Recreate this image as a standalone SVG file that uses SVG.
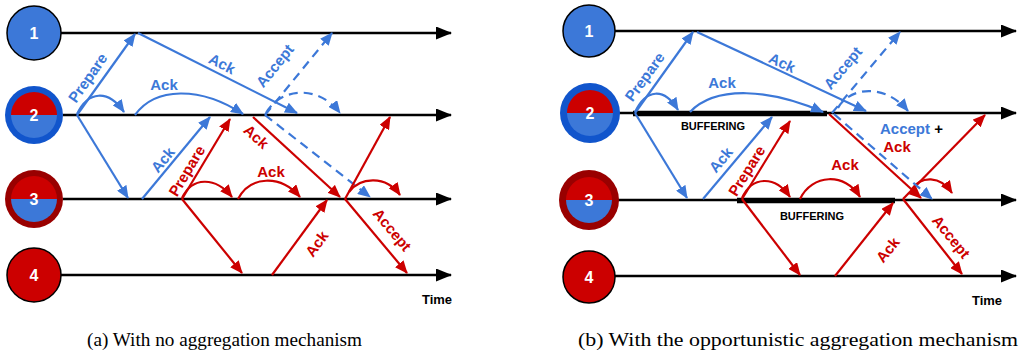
<svg xmlns="http://www.w3.org/2000/svg" width="1029" height="356" viewBox="0 0 1029 356">
<style>
.tl{stroke:#000;stroke-width:2.6;fill:none}
.b{stroke:#3c78d8;stroke-width:2.2;fill:none}
.bd{stroke:#3c78d8;stroke-width:2.2;fill:none;stroke-dasharray:9 6}
.r{stroke:#cc0000;stroke-width:2.2;fill:none}
.buf{stroke:#000;stroke-width:5.5}
.lb{font-family:"Liberation Sans",Arial,sans-serif;font-weight:bold;font-size:15px;text-anchor:middle}
.bt{fill:#3c78d8}
.rt{fill:#cc0000}
.nt{font-family:"Liberation Sans",Arial,sans-serif;font-weight:bold;font-size:16px;fill:#fff;text-anchor:middle}
.sm{font-family:"Liberation Sans",Arial,sans-serif;font-weight:bold;font-size:11px;fill:#000;text-anchor:middle}
.tm{font-family:"Liberation Sans",Arial,sans-serif;font-weight:bold;font-size:13px;fill:#000;text-anchor:middle}
.cap{font-family:"Liberation Serif","Times New Roman",serif;font-size:19px;fill:#000}
</style>
<defs>
<marker id="ak" viewBox="0 0 16 13" refX="15" refY="6.5" markerWidth="16" markerHeight="13" markerUnits="userSpaceOnUse" orient="auto"><path d="M0,0L16,6.5L0,13z" fill="#000"/></marker>
<marker id="ab" viewBox="0 0 13 11" refX="12" refY="5.5" markerWidth="13" markerHeight="11" markerUnits="userSpaceOnUse" orient="auto"><path d="M0,0L13,5.5L0,11z" fill="#3c78d8"/></marker>
<marker id="ar" viewBox="0 0 13 11" refX="12" refY="5.5" markerWidth="13" markerHeight="11" markerUnits="userSpaceOnUse" orient="auto"><path d="M0,0L13,5.5L0,11z" fill="#cc0000"/></marker>
</defs>

<!-- ===== Panel (a) ===== -->
<g id="timelines-a">
<line class="tl" x1="61" y1="33" x2="451" y2="33" marker-end="url(#ak)"/>
<line class="tl" x1="63" y1="115" x2="451" y2="115" marker-end="url(#ak)"/>
<line class="tl" x1="63" y1="199" x2="451" y2="199" marker-end="url(#ak)"/>
<line class="tl" x1="61" y1="275" x2="451" y2="275" marker-end="url(#ak)"/>
</g>
<g id="connectors-a">
<line class="b" x1="77" y1="115" x2="135" y2="34" marker-end="url(#ab)"/>
<line class="b" x1="77" y1="115" x2="128" y2="198" marker-end="url(#ab)"/>
<path class="b" d="M77,114 C88,91 108,89 124,112" marker-end="url(#ab)"/>
<path class="b" d="M135,115 C155,87 200,86 243,114" marker-end="url(#ab)"/>
<line class="b" x1="138" y1="33" x2="297" y2="113" marker-end="url(#ab)"/>
<line class="b" x1="142" y1="199" x2="210" y2="117" marker-end="url(#ab)"/>
<line class="bd" x1="265" y1="115" x2="332" y2="33" marker-end="url(#ab)"/>
<path class="bd" d="M266,113 C280,88 318,84 340,113" marker-end="url(#ab)"/>
<line class="bd" x1="265" y1="115" x2="370" y2="197" marker-end="url(#ab)"/>
<line class="r" x1="182" y1="199" x2="230" y2="119" marker-end="url(#ar)"/>
<line class="r" x1="182" y1="199" x2="242" y2="273" marker-end="url(#ar)"/>
<path class="r" d="M182,198 C192,177 215,176 232,197" marker-end="url(#ar)"/>
<path class="r" d="M238,199 C250,176 280,174 300,197" marker-end="url(#ar)"/>
<line class="r" x1="253" y1="117" x2="340" y2="197" marker-end="url(#ar)"/>
<line class="r" x1="345" y1="199" x2="390" y2="117" marker-end="url(#ar)"/>
<path class="r" d="M349,192 C360,177 386,175 400,195" marker-end="url(#ar)"/>
<line class="r" x1="272" y1="275" x2="327" y2="200" marker-end="url(#ar)"/>
<line class="r" x1="345" y1="199" x2="407" y2="273" marker-end="url(#ar)"/>
</g>
<g id="labels-a">
<text class="lb bt" transform="translate(88,78) rotate(-55)" y="5">Prepare</text>
<text class="lb bt" x="164" y="90">Ack</text>
<text class="lb bt" transform="translate(222,64) rotate(27)" y="5">Ack</text>
<text class="lb bt" transform="translate(275,66) rotate(-51)" y="5">Accept</text>
<text class="lb bt" transform="translate(163,160) rotate(-50)" y="5">Ack</text>
<text class="lb rt" transform="translate(187,171) rotate(-59)" y="5">Prepare</text>
<text class="lb rt" x="271" y="177">Ack</text>
<text class="lb rt" transform="translate(256,137) rotate(42)" y="5">Ack</text>
<text class="lb rt" transform="translate(317,244) rotate(-54)" y="5">Ack</text>
<text class="lb rt" transform="translate(392,230) rotate(50)" y="5">Accept</text>
<text class="tm" x="437" y="304">Time</text>
</g>
<g id="a-node1"><circle cx="34" cy="33" r="27" fill="#3c78d8" stroke="#000" stroke-width="1.5"/><text class="nt" x="34" y="39">1</text></g>
<g id="a-node2"><circle cx="34" cy="115" r="29" fill="#1155cc"/><path d="M11,115A23,23 0 0 1 57,115Z" fill="#cc0000"/><path d="M11,115A23,23 0 0 0 57,115Z" fill="#3c78d8"/><text class="nt" x="34" y="121">2</text></g>
<g id="a-node3"><circle cx="34" cy="199" r="29" fill="#990000"/><path d="M11,199A23,23 0 0 1 57,199Z" fill="#cc0000"/><path d="M11,199A23,23 0 0 0 57,199Z" fill="#3c78d8"/><text class="nt" x="34" y="205">3</text></g>
<g id="a-node4"><circle cx="34" cy="275" r="27" fill="#cc0000" stroke="#000" stroke-width="1.5"/><text class="nt" x="34" y="281">4</text></g>

<!-- ===== Panel (b) ===== -->
<g id="timelines-b">
<line class="tl" x1="615" y1="31" x2="1016" y2="31" marker-end="url(#ak)"/>
<line class="tl" x1="618" y1="113" x2="1016" y2="113" marker-end="url(#ak)"/>
<line class="tl" x1="618" y1="200" x2="1016" y2="200" marker-end="url(#ak)"/>
<line class="tl" x1="615" y1="276" x2="1016" y2="276" marker-end="url(#ak)"/>
<line class="buf" x1="633" y1="113.5" x2="827" y2="113.5"/>
<line class="buf" x1="737" y1="200.5" x2="895" y2="200.5"/>
</g>
<g id="connectors-b">
<line class="b" x1="635" y1="113" x2="693" y2="32" marker-end="url(#ab)"/>
<line class="b" x1="635" y1="113" x2="687" y2="198" marker-end="url(#ab)"/>
<path class="b" d="M635,112 C646,89 664,87 678,110" marker-end="url(#ab)"/>
<path class="b" d="M690,112 C716,85 770,89 823,112" marker-end="url(#ab)"/>
<line class="b" x1="697" y1="32" x2="866" y2="111" marker-end="url(#ab)"/>
<line class="b" x1="703" y1="199" x2="772" y2="117" marker-end="url(#ab)"/>
<line class="r" x1="742" y1="199" x2="790" y2="121" marker-end="url(#ar)"/>
<line class="r" x1="742" y1="199" x2="800" y2="275" marker-end="url(#ar)"/>
<path class="r" d="M742,198 C752,176 775,175 790,197" marker-end="url(#ar)"/>
<path class="r" d="M800,199 C812,174 845,172 860,197" marker-end="url(#ar)"/>
<line class="r" x1="829" y1="114" x2="921" y2="198" marker-end="url(#ar)"/>
<line class="r" x1="903" y1="199" x2="985" y2="115" marker-end="url(#ar)"/>
<path class="r" d="M912,189 C921,176 940,175 952,193" marker-end="url(#ar)"/>
<line class="r" x1="835" y1="276" x2="893" y2="203" marker-end="url(#ar)"/>
<line class="r" x1="903" y1="199" x2="962" y2="274" marker-end="url(#ar)"/>
<line class="bd" x1="832" y1="113" x2="900" y2="32" marker-end="url(#ab)"/>
<path class="bd" d="M838,108 C850,86 886,84 908,111" marker-end="url(#ab)"/>
<line class="bd" x1="834" y1="114" x2="932" y2="199" marker-end="url(#ab)"/>
</g>
<g id="labels-b">
<text class="lb bt" transform="translate(645,77) rotate(-54)" y="5">Prepare</text>
<text class="lb bt" x="722" y="88">Ack</text>
<text class="lb bt" transform="translate(782,63) rotate(25)" y="5">Ack</text>
<text class="lb bt" transform="translate(843,68) rotate(-50)" y="5">Accept</text>
<text class="lb bt" transform="translate(721,160) rotate(-50)" y="5">Ack</text>
<text class="lb rt" transform="translate(747,171) rotate(-58)" y="5">Prepare</text>
<text class="lb rt" x="845" y="170">Ack</text>
<text class="lb" x="880" y="134" style="text-anchor:start"><tspan fill="#3c78d8">Accept</tspan><tspan fill="#000"> +</tspan></text>
<text class="lb rt" x="897" y="152">Ack</text>
<text class="lb rt" transform="translate(888,250) rotate(-51)" y="5">Ack</text>
<text class="lb rt" transform="translate(951,237) rotate(51)" y="5">Accept</text>
<text class="sm" x="713" y="130">BUFFERING</text>
<text class="sm" x="812" y="220">BUFFERING</text>
<text class="tm" x="987" y="305">Time</text>
</g>
<g id="b-node1"><circle cx="589" cy="31" r="26" fill="#3c78d8" stroke="#000" stroke-width="1.5"/><text class="nt" x="589" y="37">1</text></g>
<g id="b-node2"><circle cx="590" cy="113" r="30" fill="#1155cc"/><path d="M567,113A23,23 0 0 1 613,113Z" fill="#cc0000"/><path d="M567,113A23,23 0 0 0 613,113Z" fill="#3c78d8"/><text class="nt" x="590" y="119">2</text></g>
<g id="b-node3"><circle cx="589" cy="200" r="30" fill="#990000"/><path d="M566,200A23,23 0 0 1 612,200Z" fill="#cc0000"/><path d="M566,200A23,23 0 0 0 612,200Z" fill="#3c78d8"/><text class="nt" x="589" y="206">3</text></g>
<g id="b-node4"><circle cx="589" cy="277" r="26" fill="#cc0000" stroke="#000" stroke-width="1.5"/><text class="nt" x="589" y="283">4</text></g>

<g id="captions">
<text class="cap" x="87" y="346" textLength="275" lengthAdjust="spacingAndGlyphs">(a)  With no aggregation mechanism</text>
<text class="cap" x="578" y="346" textLength="440" lengthAdjust="spacingAndGlyphs">(b)  With the opportunistic aggregation mechanism</text>
</g>
</svg>
